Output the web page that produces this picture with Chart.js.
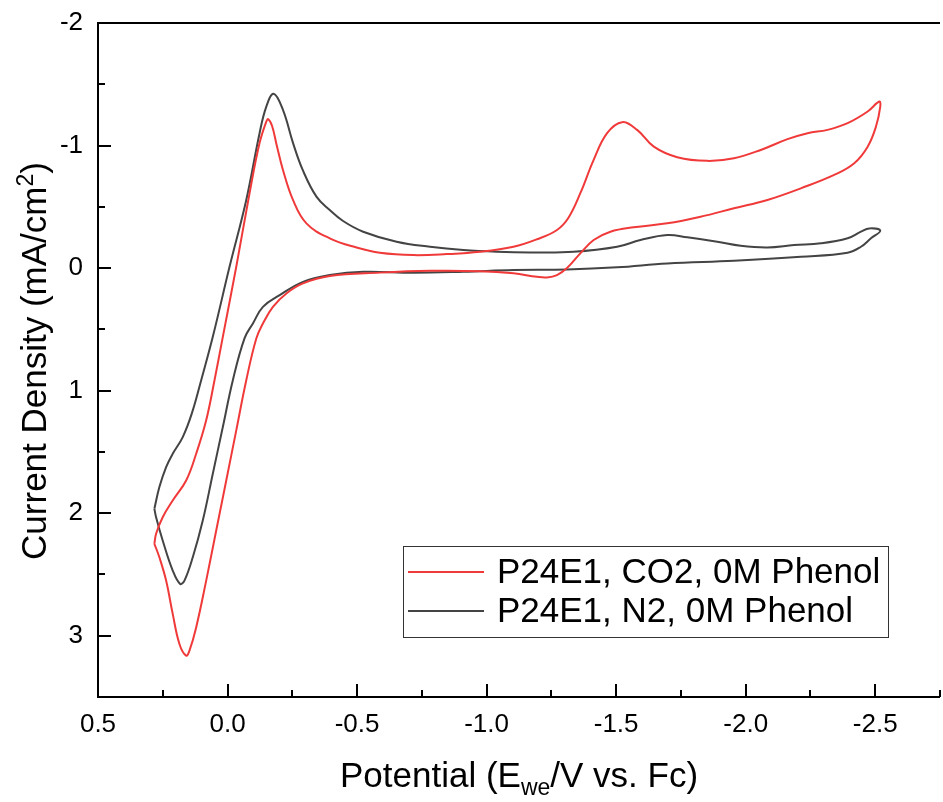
<!DOCTYPE html>
<html>
<head>
<meta charset="utf-8">
<script src="https://cdn.jsdelivr.net/npm/chart.js@4"></script>
<style>
html,body{margin:0;padding:0;background:#fff;}
#wrap{width:943px;height:802px;}
</style>
</head>
<body>
<div id="wrap"><canvas id="c" width="943" height="802"></canvas></div>
<script>
// ---- data ----
const seriesLabels = ['P24E1, CO2, 0M Phenol', 'P24E1, N2, 0M Phenol'];
const seriesColors = ['#f03a3a', '#444444'];

const potentialCO2 = [0.2824,0.2758,0.2503,0.2116,0.1598,0.1211,0.0824,0.0503,0.0182,-0.0337,-0.0851,-0.1238,-0.1497,-0.1574,-0.1720,-0.1900,-0.2139,-0.2526,-0.3044,-0.3946,-0.4979,-0.5880,-0.7168,-0.8460,-0.9749,-1.1037,-1.1942,-1.2716,-1.3153,-1.3617,-1.4132,-1.4650,-1.5230,-1.5810,-1.6453,-1.7358,-1.8518,-1.9547,-2.0580,-2.1613,-2.2387,-2.3160,-2.3934,-2.4708,-2.5157,-2.5195,-2.5029,-2.4708,-2.4190,-2.3416,-2.2128,-2.0839,-1.9547,-1.8259,-1.6971,-1.5679,-1.4778,-1.4132,-1.3617,-1.3103,-1.2716,-1.2329,-1.1942,-1.1037,-0.9749,-0.7814,-0.5880,-0.3946,-0.2913,-0.2271,-0.1752,-0.1366,-0.1110,-0.0723,-0.0337,0.0050,0.0437,0.0824,0.1211,0.1470,0.1598,0.1857,0.2116,0.2371,0.2631,0.2824];
const currentCO2 = [2.250,2.168,2.033,1.896,1.733,1.515,1.242,0.915,0.561,-0.011,-0.613,-1.022,-1.196,-1.215,-1.160,-1.000,-0.801,-0.556,-0.365,-0.243,-0.168,-0.125,-0.106,-0.114,-0.133,-0.174,-0.235,-0.311,-0.409,-0.611,-0.883,-1.101,-1.191,-1.128,-0.991,-0.905,-0.875,-0.897,-0.964,-1.052,-1.101,-1.128,-1.183,-1.278,-1.359,-1.318,-1.155,-0.991,-0.856,-0.760,-0.651,-0.556,-0.488,-0.419,-0.365,-0.333,-0.297,-0.229,-0.120,0.000,0.057,0.076,0.071,0.043,0.025,0.022,0.037,0.065,0.125,0.207,0.316,0.452,0.575,0.915,1.324,1.733,2.141,2.550,2.932,3.122,3.163,3.067,2.822,2.550,2.360,2.250];

const potentialN2 = [0.2824,0.2631,0.2371,0.2116,0.1729,0.1381,0.1017,0.0569,-0.0077,-0.0723,-0.1238,-0.1497,-0.1780,-0.2139,-0.2526,-0.2901,-0.3431,-0.3946,-0.4460,-0.5234,-0.6526,-0.7814,-0.9102,-1.0395,-1.1683,-1.3358,-1.5037,-1.5938,-1.6971,-1.7745,-1.8905,-1.9807,-2.0839,-2.1868,-2.2901,-2.3934,-2.4449,-2.4770,-2.5195,-2.4836,-2.4449,-2.3934,-2.2128,-1.9547,-1.6971,-1.5037,-1.3103,-1.1037,-0.9102,-0.7168,-0.5234,-0.3946,-0.2913,-0.2012,-0.1366,-0.0979,-0.0658,-0.0205,0.0182,0.0569,0.0956,0.1342,0.1663,0.1830,0.2116,0.2503,0.2758,0.2824];
const currentN2 = [1.964,1.787,1.624,1.515,1.379,1.188,0.915,0.561,-0.011,-0.556,-1.103,-1.318,-1.422,-1.291,-1.022,-0.801,-0.583,-0.474,-0.384,-0.297,-0.215,-0.174,-0.147,-0.133,-0.128,-0.133,-0.174,-0.229,-0.270,-0.251,-0.215,-0.182,-0.169,-0.188,-0.202,-0.243,-0.297,-0.324,-0.305,-0.243,-0.174,-0.125,-0.092,-0.060,-0.038,-0.006,0.012,0.016,0.030,0.038,0.030,0.057,0.112,0.221,0.316,0.452,0.572,0.915,1.297,1.678,2.060,2.360,2.550,2.577,2.468,2.223,2.033,1.964];

const xTickValues = [0.5, 0.0, -0.5, -1.0, -1.5, -2.0, -2.5];
const xMinorValues = [0.25, -0.25, -0.75, -1.25, -1.75, -2.25, -2.75];
const yTickValues = [-2, -1, 0, 1, 2, 3];
const yMinorValues = [-1.5, -0.5, 0.5, 1.5, 2.5];
const xRange = [-2.75, 0.5];
const yRange = [-2, 3.5];

const FONT = "'Liberation Sans', Arial, sans-serif";

function toPoints(xs, ys){ return xs.map((x,i)=>({x:x, y:ys[i]})); }

const framePlugin = {
  id: 'framePlugin',
  afterDraw(chart){
    const ctx = chart.ctx;
    const xs = chart.scales.x, ys = chart.scales.y;
    const a = chart.chartArea;
    ctx.save();
    ctx.strokeStyle = '#000';
    ctx.lineWidth = 2;
    ctx.lineCap = 'butt';
    // axes lines (left, bottom, top)
    ctx.beginPath();
    ctx.moveTo(a.left, a.top); ctx.lineTo(a.right, a.top);
    ctx.moveTo(a.left, a.top - 1); ctx.lineTo(a.left, a.bottom + 1);
    ctx.moveTo(a.left - 1, a.bottom); ctx.lineTo(a.right, a.bottom);
    ctx.stroke();
    // ticks, inward
    ctx.beginPath();
    xTickValues.forEach(v=>{ const p = Math.round(xs.getPixelForValue(v)); ctx.moveTo(p, a.bottom); ctx.lineTo(p, a.bottom-13); });
    xMinorValues.forEach(v=>{ const p = Math.round(xs.getPixelForValue(v)); ctx.moveTo(p, a.bottom); ctx.lineTo(p, a.bottom-7); });
    yTickValues.forEach(v=>{ const p = Math.round(ys.getPixelForValue(v)); ctx.moveTo(a.left, p); ctx.lineTo(a.left+13, p); });
    yMinorValues.forEach(v=>{ const p = Math.round(ys.getPixelForValue(v)); ctx.moveTo(a.left, p); ctx.lineTo(a.left+7, p); });
    ctx.stroke();

    ctx.fillStyle = '#000';
    // x title with subscript
    const big = '35px ' + FONT, small = '23px ' + FONT;
    const parts = [['Potential (E', big, 0], ['we', small, 8], ['/V vs. Fc)', big, 0]];
    let w = 0;
    parts.forEach(p=>{ ctx.font = p[1]; w += ctx.measureText(p[0]).width; });
    let x0 = 519 - w/2;
    ctx.textBaseline = 'alphabetic'; ctx.textAlign = 'left';
    parts.forEach(p=>{ ctx.font = p[1]; ctx.fillText(p[0], x0, 787 + p[2]); x0 += ctx.measureText(p[0]).width; });

    // y title with superscript
    const yparts = [['Current Density (mA/cm', big, 0], ['2', small, -13], [')', big, 0]];
    w = 0;
    yparts.forEach(p=>{ ctx.font = p[1]; w += ctx.measureText(p[0]).width; });
    ctx.save();
    ctx.translate(46, 361);
    ctx.rotate(-Math.PI/2);
    let y0 = -w/2;
    yparts.forEach(p=>{ ctx.font = p[1]; ctx.fillText(p[0], y0, p[2]); y0 += ctx.measureText(p[0]).width; });
    ctx.restore();

    // legend
    const L = {left:403, top:546, right:888, bottom:637};
    ctx.lineWidth = 1;
    ctx.strokeStyle = '#333';
    ctx.strokeRect(L.left + 0.5, L.top + 0.5, L.right - L.left, L.bottom - L.top);
    const rows = [572, 611];
    ctx.font = '35px ' + FONT;
    ctx.textBaseline = 'middle';
    chart.data.datasets.forEach((ds, i)=>{
      ctx.strokeStyle = ds.borderColor;
      ctx.lineWidth = 2;
      ctx.beginPath(); ctx.moveTo(408, rows[i]); ctx.lineTo(484, rows[i]); ctx.stroke();
      ctx.fillStyle = '#000';
      ctx.fillText(ds.label, 497, rows[i] + 1);
    });
    ctx.restore();
  }
};

new Chart(document.getElementById('c'), {
  type: 'scatter',
  data: {
    datasets: [
      { label: seriesLabels[0], data: toPoints(potentialCO2, currentCO2), showLine: true, borderColor: seriesColors[0], backgroundColor: seriesColors[0], borderWidth: 2, pointRadius: 0, tension: 0.4, fill: false },
      { label: seriesLabels[1], data: toPoints(potentialN2, currentN2), showLine: true, borderColor: seriesColors[1], backgroundColor: seriesColors[1], borderWidth: 2, pointRadius: 0, tension: 0.4, fill: false }
    ]
  },
  options: {
    responsive: false,
    animation: false,
    devicePixelRatio: 1,
    layout: { padding: { top: 23, right: 3, left: 0, bottom: 0 } },
    plugins: { legend: { display: false }, tooltip: { enabled: false } },
    scales: {
      x: {
        type: 'linear', min: xRange[0], max: xRange[1], reverse: true,
        grid: { display: false, drawTicks: false, tickLength: 0 },
        border: { display: false },
        afterBuildTicks: s => { s.ticks = xTickValues.map(v=>({value:v})); },
        afterFit: s => { s.height = 105; s.paddingLeft = 0; s.paddingRight = 0; },
        ticks: { color: '#000', padding: 12, font: { family: FONT, size: 26 }, maxRotation: 0, autoSkip: false,
                 callback: v => Number(v).toFixed(1) }
      },
      y: {
        type: 'linear', min: yRange[0], max: yRange[1], reverse: true,
        grid: { display: false, drawTicks: false, tickLength: 0 },
        border: { display: false },
        afterBuildTicks: s => { s.ticks = yTickValues.map(v=>({value:v})); },
        afterFit: s => { s.width = 98; s.paddingTop = 0; s.paddingBottom = 0; },
        ticks: { color: '#000', padding: 15, font: { family: FONT, size: 26 }, autoSkip: false,
                 callback: v => String(Math.round(v)) }
      }
    }
  },
  plugins: [framePlugin]
});
</script>
</body>
</html>
